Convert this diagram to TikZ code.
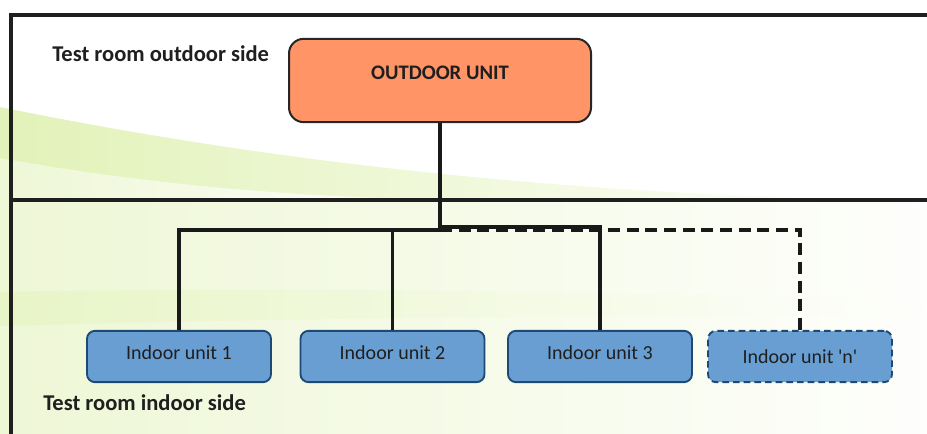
\documentclass[tikz,border=0pt]{standalone}
\usepackage{fontspec}
\setmainfont{Carlito}
\definecolor{outorange}{HTML}{FF9466}
\definecolor{indoorblue}{HTML}{699ED3}
\definecolor{indoorline}{HTML}{1C4A74}
\definecolor{bandgreen}{HTML}{E2F2B8}
\definecolor{palegreen}{HTML}{EEF7D6}
\tikzset{
    plan/.style={x=0.75pt,y=-0.75pt},
    wall/.style={draw=black!88,line width=2.4pt},
    outunit/.style={rectangle,rounded corners=11pt,draw=black!85,line width=1.5pt,
                    fill=outorange,minimum width=226.5pt,minimum height=62.5pt,
                    text=black!88,text depth=11pt,
                    font=\fontsize{15.5}{18}\selectfont\bfseries},
    inunit/.style={rectangle,rounded corners=6pt,draw=indoorline,line width=1.4pt,
                   fill=indoorblue,minimum width=138pt,minimum height=38.5pt,
                   text=black!88,text depth=6.5pt,
                   font=\fontsize{15}{18}\selectfont},
    optunit/.style={inunit,text depth=0pt,dash pattern=on 5pt off 3pt},
    pipe/.style={draw=black!90,line width=2.4pt},
    trunk/.style={pipe,line width=3pt},
    optpipe/.style={pipe,dash pattern=on 9pt off 5pt},
    sidelabel/.style={anchor=west,inner sep=0pt,text=black!88,
                      font=\fontsize{16.9}{20}\selectfont\bfseries},
    }

\begin{document}
\begin{tikzpicture}[plan]
    \useasboundingbox (0,0) rectangle (927,434);

    % background swooshes
    \shade[left color=bandgreen,right color=white]
        (0,107) .. controls (260,160) and (560,196) .. (927,201) -- (0,201) -- cycle;
    \shade[left color=palegreen,right color=white]
        (0,158) .. controls (150,185) and (300,198) .. (480,201) -- (0,201) -- cycle;
    \shade[left color=palegreen,right color=white!92!palegreen]
        (0,201) rectangle (927,434);
    \shade[left color=bandgreen!80,right color=white!92!palegreen]
        (0,292) .. controls (300,286) and (600,292) .. (927,300)
        -- (927,318) .. controls (600,314) and (300,318) .. (0,326) -- cycle;

    % room walls
    \draw[wall] (927,15) -- (11,15) -- (11,434);
    \draw[wall] (11,200) -- (927,200);

    \node[sidelabel] (outside) at (52,54) {Test room outdoor side};
    \node[sidelabel] (inside) at (43,403) {Test room indoor side};

    \node[outunit] (out) at (440,80.5) {OUTDOOR UNIT};
    \node[inunit] (in1) at (179,356.5) {Indoor unit 1};
    \node[inunit] (in2) at (392.5,356.5) {Indoor unit 2};
    \node[inunit] (in3) at (600,356.5) {Indoor unit 3};
    \node[optunit] (inn) at (800,356.5) {Indoor unit \textquotesingle n\textquotesingle};

    \coordinate (hub) at (440,230);
    \draw[optpipe] (hub) -| (inn.north);
    \draw[pipe] ([yshift=2.2pt]hub) -| (in3.north);
    \draw[pipe] (hub) -| (in1.north);
    \draw[pipe] (in2.north) -- (in2.north |- hub);
    \draw[trunk] (out.south) -- (hub);
\end{tikzpicture}
\end{document}
